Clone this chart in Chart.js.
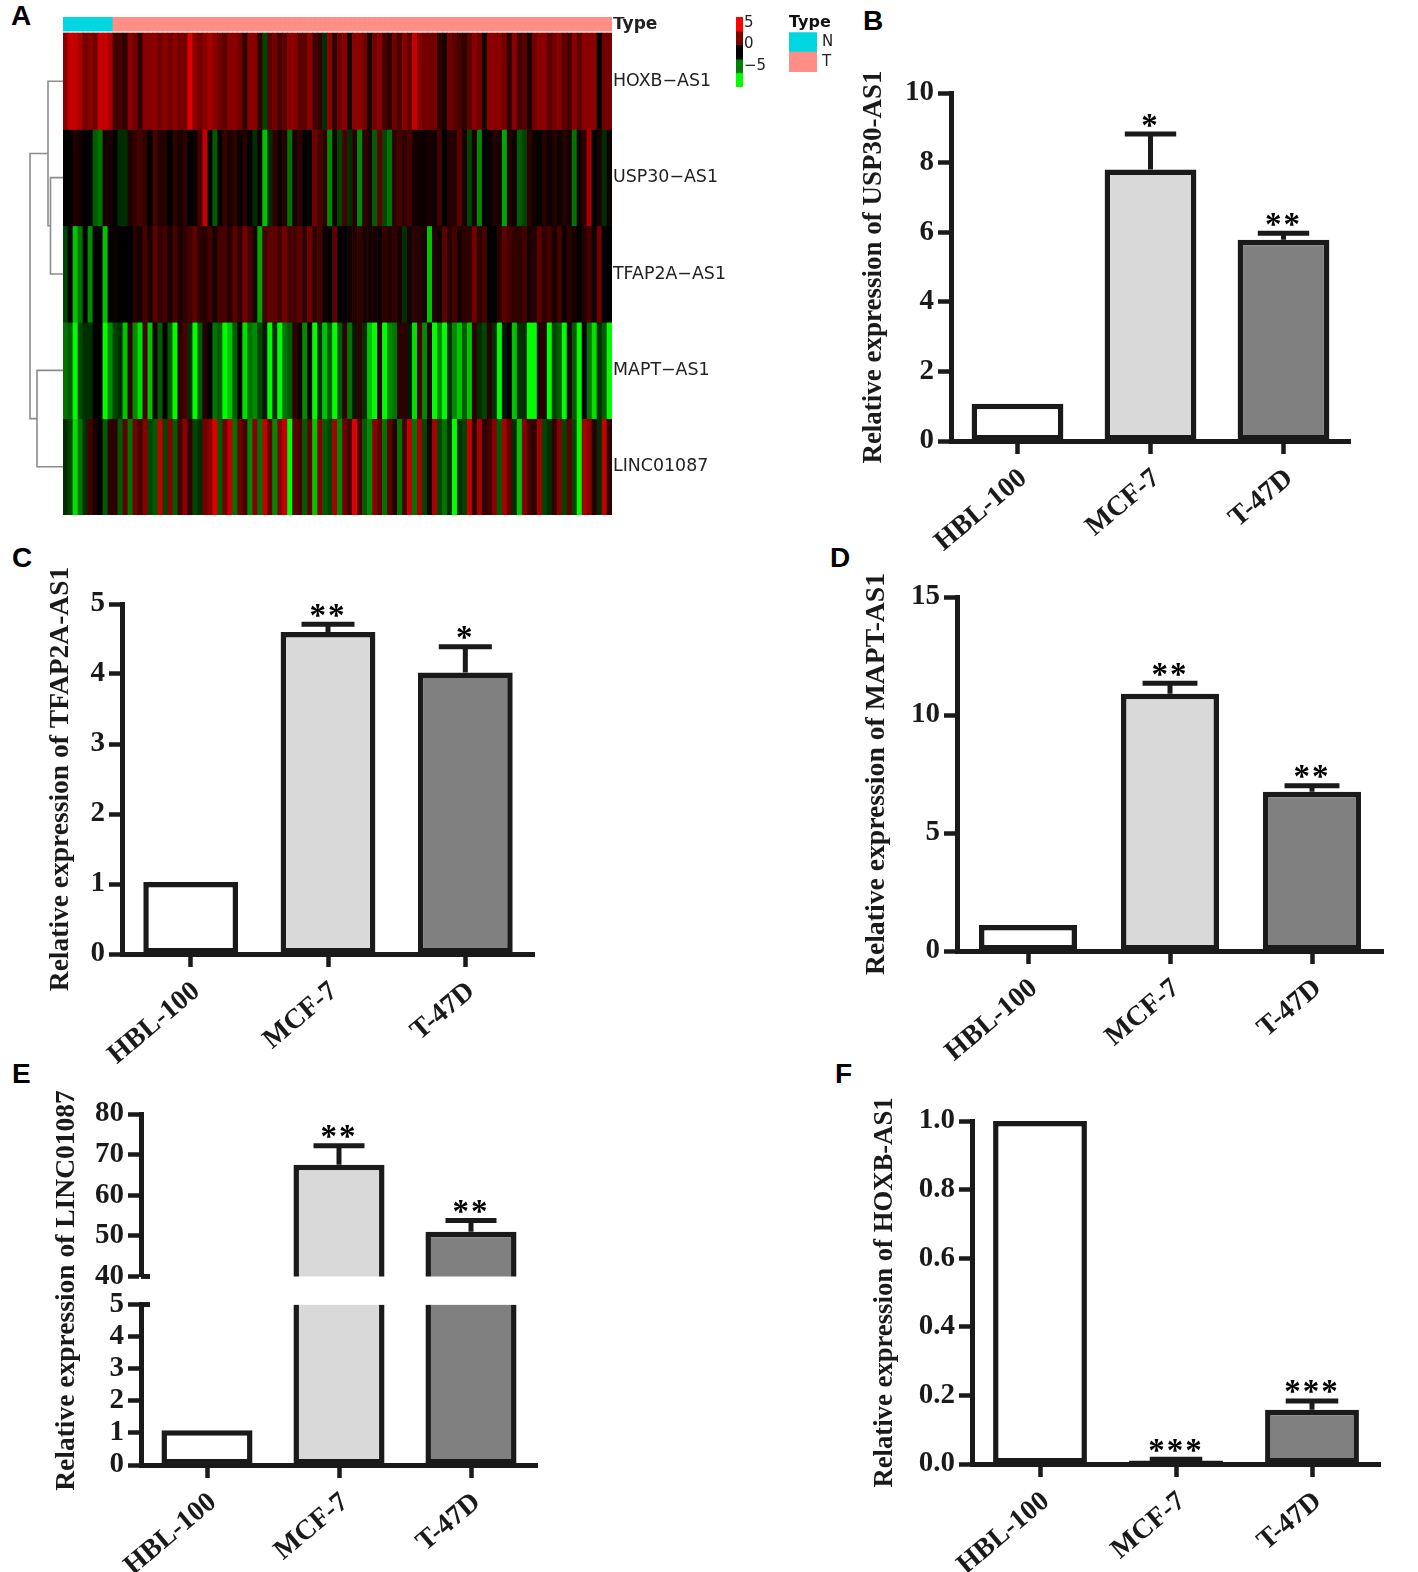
<!DOCTYPE html>
<html>
<head>
<meta charset="utf-8">
<title>lncRNA expression</title>
<script src="https://cdn.jsdelivr.net/npm/chart.js@4"></script>
<style>
  html, body { margin: 0; padding: 0; background: #fff; }
  #page { position: relative; width: 1418px; height: 1572px; overflow: hidden; }
  #page canvas { position: absolute; }
  .tag { position: absolute; font: bold 28px "Liberation Sans", sans-serif; color: #000; line-height: 28px; }
</style>
</head>
<body>
<div id="page">
  <div class="tag" style="left:11px;top:2px">A</div>
  <div class="tag" style="left:863px;top:7px">B</div>
  <div class="tag" style="left:12px;top:544px">C</div>
  <div class="tag" style="left:830px;top:544px">D</div>
  <div class="tag" style="left:12px;top:1060px">E</div>
  <div class="tag" style="left:835px;top:1060px">F</div>
</div>
<script>
// heatmap, one value per column (-5 green .. 5 red)
const genes = ["HOXB\u2212AS1", "USP30\u2212AS1", "TFAP2A\u2212AS1", "MAPT\u2212AS1", "LINC01087"];
const hoxbRow = [3,4,4,3.5,2.5,3,2.5,4,4,3.5,1.5,1.5,1,3,2.5,1,3,3,3,2.5,3,2.5,3,2.5,2.5,4.5,3,2.5,3,3.5,
  3,2.5,2,3,3,2.5,1,3,3,1,-1.5,2,2.5,1.5,2,3,3,2,2,3,1.5,1,-1,3,1,
  2.5,3,0.5,3,3,2.5,0.5,2.5,3,1.5,1,2.5,1.5,3,2,4,3,2.5,2.5,2.5,1,0.5,2.5,2,1.5,1,2,3,2.5,0.5,
  3,3,3,2.5,1,3,1.5,2,0.5,2.5,3,3,2,2.5,3,2,1.5,3,2,3,3,3,0,2.5,2.5];
const uspRow = [0,0,0.7,0.4,0,0,-2,-2.5,0.5,0.5,0,-1,-1,0.7,1.2,1.5,1,0,1.5,0.8,0.8,0,1,0.5,1,0,0.3,1.5,4,0,
  -2,0,1.2,0.5,1,0.2,0.8,0,-1,0.3,-4,-1,1,0.3,0.8,-2.5,0.5,1,0,0,2.5,1.5,1,-3,0.5,
  -1.5,1.5,-1,0.8,-3,1,0.5,-2,2,-1.5,-2.5,1,1.5,1,1.5,0.4,0.4,0.3,0.5,0.3,1.5,0,0.8,0.8,2,0.5,-1.5,0.5,-3,0,
  0,0.8,0.5,-3.5,0.8,0.3,-2,-1.5,1,0.3,0,0.8,0.3,0.8,0.3,0.8,0.5,-2.5,0.3,1,3.5,0,0.5,-1,0.3];
const tfapRow = [-1.5,0,-4,-2.5,0,-3,0,0,-4,0,0.3,0,0,0,0.8,0.5,1.5,0.5,2,1,1.5,0.5,1.5,0.6,1,1.5,2,1,0.8,1.5,
  0.5,1.5,1.5,0.8,2,1,2.5,1.5,0.5,-3.5,1.5,2,2,1.5,2.5,1.5,1.5,2,1,2.5,1,1.5,0.3,0,2,
  0,0,0.4,0.8,1,0.6,0.5,0.5,0.3,1,0.8,1,0.5,-1,0.5,1,0.7,0.5,-4,0.8,0.3,2,0.8,1.5,0.5,1,1,2.5,1,1.5,
  0,0,1,2,1.5,1,1,1.5,0.5,0.8,2,1,1.5,0.5,1.5,0.3,1,0.5,0,0.8,1.5,0.3,2.5,0,0];
const maptRow = [-2.5,-2,-5,-1.5,-1,-1,0,0,-5,-3,-1.5,-1,-4,1,-3,-4.5,1.5,-4,0.5,-2,0,-2,-5,1,1.5,-1,-5,-2,
  0.8,0,-2.5,-2,-5,-4,-2,0,-4.5,-2.5,-3,-1.5,-0.5,-5,-1,-5,-2.5,-2,1,0.3,-3,0,-5,-1,-4,-2,-5,-2,
  1,-2.5,-0.5,1,-1,-4,-5,1,-5,-3,-2.5,1,1,-0.5,-4.5,1.5,-3,0.8,-5,-3,-5,-1,-3,-4,-2,-4,1,
  -1,-1.5,0.8,-1,-5,-0.5,0,-4,-1,-1,-5,-5,0.8,0.8,-5,-1.5,-2,-5,0.5,-2,-5,0,-2.5,-4.5,-1,-2,-5];
const lincRow = [-1,-1.5,-4.5,-2.5,-1,1.5,0.5,0,-2,1,1,-2,2,-2.5,2.5,1.5,3,-1.5,-2,4,-1.5,3,-2,1.5,3,1,-1.5,-1,
  2.5,3,4.5,-2,2.5,4,-2.5,2.5,1.5,-3,3,-2.5,4,2,-3,3,4,-5,2,1.5,-2,2,-4,3,-2,-1.5,3.5,-3,
  2.5,1.5,4.5,1.5,-2,-3,3,2,-2.5,2,0.8,-2.5,1.5,4,-2.5,3.5,-1.5,0.5,3.5,-1.5,-2.5,-1,-5,-1,-1.5,4,1,
  3.5,1,1.5,3,-2,3.5,2,-1,-4,3,1.5,1,3.5,-1.5,-1,1,3,-1.5,2,-1.5,-5,3.5,3,0.7,-1,4,1];
const normalColumns = 10;

// dendrogram: leaves are 0-4, merge i gets id 5+i
const mergeA = [1, 0, 3, 6];
const mergeB = [2, 5, 4, 7];
const mergeHeight = [12.5, 15, 26, 33];

// colour key
const keyEdges = [6.4, 3.1, 0, -3.4, -6.6, -9.9];
const keyColors = ["#ff0000", "#800000", "#000000", "#008000", "#00ff00"];
const keyTicks = [5, 0, -5];

// bar panels
const cellLines = ["HBL-100", "MCF-7", "T-47D"];
const uspValues = [1.07, 7.8, 5.78];
const uspError = [null, 8.82, 5.97];
const uspStars = ["", "*", "**"];
const tfapValues = [1.03, 4.6, 4.02];
const tfapError = [null, 4.71, 4.39];
const tfapStars = ["", "**", "*"];
const maptValues = [1.1, 10.9, 6.75];
const maptError = [null, 11.35, 7];
const maptStars = ["", "**", "**"];
const lincValues = [1.08, 67.5, 51];
const lincError = [null, 72.2, 53.8];
const lincStars = ["", "**", "**"];
const hoxbValues = [1, 0.01, 0.158];
const hoxbError = [null, 0.014, 0.184];
const hoxbStars = ["", "***", "***"];

const ink = "#1a1a1a";
const barFills = ["#ffffff", "#d9d9d9", "#808080"];
const serif = "'Liberation Serif', serif";
const sans = "'DejaVu Sans', sans-serif";

Chart.defaults.animation = false;
Chart.defaults.responsive = false;
Chart.defaults.plugins.legend.display = false;
Chart.defaults.plugins.tooltip.enabled = false;
Chart.defaults.layout.padding = 0;

const addCanvas = (x, y, w, h) => {
  const c = document.createElement("canvas");
  c.width = w;
  c.height = h;
  c.style.left = x + "px";
  c.style.top = y + "px";
  document.getElementById("page").appendChild(c);
  return c;
};

// fixed size for an axis, and no room reserved for half a tick label
const fixWidth = (w) => (s) => { s.width = w; s.paddingTop = 0; s.paddingBottom = 0; };
const fixHeight = (h) => (s) => { s.height = h; s.paddingLeft = 0; s.paddingRight = 0; };

const heatLevel = (a) => Math.round(a <= 3 ? a * 46 : 138 + (a - 3) * 58);
const heatColor = (v) => (v >= 0 ? `rgb(${heatLevel(v)},0,0)` : `rgb(0,${heatLevel(-v)},0)`);

// panel A heatmap
const heatRows = [hoxbRow, uspRow, tfapRow, maptRow, lincRow];
const heatColumns = hoxbRow.map((_, i) => i + 1);
new Chart(addCanvas(63, 17, 679, 498), {
  type: "bar",
  data: {
    labels: heatColumns,
    datasets: [
      ...heatRows.map((row, r) => ({
        data: row.map(() => [4 - r, 5 - r]),
        backgroundColor: row.map(heatColor),
      })),
      {
        data: heatColumns.map(() => [5.02, 5.166]),
        backgroundColor: heatColumns.map((_, i) => (i < normalColumns ? "#00d7e0" : "#ff8f86")),
      },
    ].map((d) => ({ ...d, grouped: false, barPercentage: 1, categoryPercentage: 1 })),
  },
  options: {
    scales: {
      x: { display: false },
      y: {
        position: "right",
        min: 0,
        max: 5.166,
        grid: { display: false, drawTicks: false, tickLength: 0 },
        border: { display: false },
        afterFit: fixWidth(130),
        afterBuildTicks: (s) => {
          s.ticks = [0.5, 1.5, 2.5, 3.5, 4.5, 5.09].map((value) => ({ value }));
        },
        ticks: {
          padding: 1,
          color: "#222",
          autoSkip: false,
          font: (ctx) => (ctx.index === 5
            ? { family: sans, size: 17, weight: "bold" }
            : { family: sans, size: 17.4, weight: "normal" }),
          callback: (_, i) => (i === 5 ? "Type" : genes[4 - i]),
        },
      },
    },
  },
});

// panel A dendrogram
const leafCount = genes.length;
const nodeY = genes.map((_, i) => 4.5 - i);
const nodeH = genes.map(() => 0);
const dendroSets = mergeHeight.map((h, i) => {
  const a = mergeA[i];
  const b = mergeB[i];
  nodeY[leafCount + i] = (nodeY[a] + nodeY[b]) / 2;
  nodeH[leafCount + i] = h;
  return {
    data: [
      { x: nodeH[a], y: nodeY[a] },
      { x: h, y: nodeY[a] },
      { x: h, y: nodeY[b] },
      { x: nodeH[b], y: nodeY[b] },
    ],
  };
});
new Chart(addCanvas(25, 33, 38, 482), {
  type: "scatter",
  data: {
    datasets: dendroSets.map((d) => ({
      ...d,
      showLine: true,
      borderColor: "#8c8c8c",
      borderWidth: 1.6,
      pointRadius: 0,
    })),
  },
  options: {
    scales: {
      x: { display: false, reverse: true, min: 0, max: 38 },
      y: { display: false, min: 0, max: 5 },
    },
  },
});

// panel A colour key
new Chart(addCanvas(736, 12, 45, 80), {
  type: "bar",
  data: {
    labels: ["key"],
    datasets: keyColors.map((color, i) => ({
      data: [[keyEdges[i + 1], keyEdges[i]]],
      backgroundColor: color,
      grouped: false,
      barPercentage: 1,
      categoryPercentage: 1,
    })),
  },
  options: {
    layout: { padding: { top: 5, bottom: 5 } },
    scales: {
      x: { display: false },
      y: {
        position: "right",
        min: keyEdges[5],
        max: keyEdges[0],
        grid: { display: false, drawTicks: false, tickLength: 0 },
        border: { display: false },
        afterFit: fixWidth(38),
        afterBuildTicks: (s) => { s.ticks = keyTicks.map((value) => ({ value })); },
        ticks: {
          padding: 1,
          color: "#222",
          font: { family: sans, size: 15 },
          callback: (v) => String(v).replace("-", "\u2212"),
        },
      },
    },
  },
});

// panel A type key
new Chart(addCanvas(789, 13, 60, 61), {
  type: "bar",
  data: {
    labels: ["Type"],
    datasets: [
      { data: [[0, 1]], backgroundColor: "#ff8f86" },
      { data: [[1, 2]], backgroundColor: "#00d7e0" },
    ].map((d) => ({ ...d, grouped: false, barPercentage: 1, categoryPercentage: 1 })),
  },
  options: {
    layout: { padding: { bottom: 2 } },
    plugins: {
      title: {
        display: true,
        text: "Type",
        align: "start",
        color: "#111",
        padding: 0,
        font: { family: sans, size: 16, weight: "bold" },
      },
    },
    scales: {
      x: { display: false },
      y: {
        position: "right",
        min: 0,
        max: 2,
        grid: { display: false, drawTicks: false, tickLength: 0 },
        border: { display: false },
        afterFit: fixWidth(32),
        afterBuildTicks: (s) => { s.ticks = [0.5, 1.5].map((value) => ({ value })); },
        ticks: {
          padding: 5,
          color: "#222",
          font: { family: sans, size: 15 },
          callback: (_, i) => ["T", "N"][i],
        },
      },
    },
  },
});

// whiskers, stars and the short ticks at an axis break, drawn through the scales
const marks = (valueScale, errors, values, stars, breaks) => ({
  id: "marks",
  afterDatasetsDraw(chart) {
    const { ctx, scales } = chart;
    const y = scales[valueScale];
    const barW = scales.x.width / 3 * 0.69;
    ctx.save();
    ctx.strokeStyle = ink;
    ctx.fillStyle = "#000";
    ctx.lineWidth = 5;
    errors.forEach((e, i) => {
      if (e === null) return;
      const px = scales.x.getPixelForValue(i);
      const top = y.getPixelForValue(e);
      ctx.beginPath();
      ctx.moveTo(px, y.getPixelForValue(values[i]));
      ctx.lineTo(px, top);
      ctx.moveTo(px - barW * 0.28, top);
      ctx.lineTo(px + barW * 0.28, top);
      ctx.stroke();
      ctx.font = "bold 33px " + serif;
      ctx.letterSpacing = "2px";
      ctx.textAlign = "center";
      ctx.textBaseline = "middle";
      ctx.fillText(stars[i], px, top - 7);
    });
    (breaks || []).forEach(([id, v]) => {
      const py = scales[id].getPixelForValue(v);
      ctx.beginPath();
      ctx.moveTo(scales.x.left, py);
      ctx.lineTo(scales.x.left + 9, py);
      ctx.stroke();
    });
    ctx.restore();
  },
});

const axisTicks = {
  color: ink,
  font: { family: serif, size: 29, weight: "bold" },
  padding: 4,
  autoSkip: false,
};
const axisGrid = {
  drawOnChartArea: false,
  tickLength: 13,
  tickWidth: 4.5,
  tickColor: ink,
};
const axisBorder = { color: ink, width: 5 };
const xAxis = (h) => ({
  grid: { ...axisGrid, offset: false },
  border: axisBorder,
  afterFit: fixHeight(h),
  ticks: {
    color: ink,
    font: { family: serif, size: 28, weight: "bold" },
    padding: 8,
    labelOffset: 6,
    autoSkip: false,
    minRotation: 40,
    maxRotation: 40,
  },
});
const titleOf = (gene, size) => ({
  display: true,
  text: "Relative expression of " + gene,
  color: ink,
  padding: { top: 0, bottom: 0 },
  font: { family: serif, size, weight: "bold" },
});

// left/right/top/bottom are where the axes of the panel sit on the page
const barPanel = ({ left, right, top, bottom, values, errors, stars, gene, titleSize, max, step, yWidth, decimals }) => {
  const padTop = 40;
  const xH = 125;
  new Chart(addCanvas(left - yWidth, top - padTop, yWidth + right - left + 6, bottom - top + padTop + xH), {
    type: "bar",
    data: {
      labels: cellLines,
      datasets: [{
        data: values,
        backgroundColor: barFills,
        borderColor: ink,
        borderWidth: 5.5,
        borderSkipped: false,
        barPercentage: 0.69,
        categoryPercentage: 1,
      }],
    },
    options: {
      layout: { padding: { top: padTop, right: 6 } },
      scales: {
        x: xAxis(xH),
        y: {
          min: 0,
          max,
          grid: axisGrid,
          border: axisBorder,
          title: titleOf(gene, titleSize),
          afterFit: fixWidth(yWidth),
          ticks: {
            ...axisTicks,
            stepSize: step,
            callback: (v) => v.toFixed(decimals),
          },
        },
      },
    },
    plugins: [marks("y", errors, values, stars)],
  });
};

barPanel({ left: 951, right: 1350, top: 93, bottom: 441, values: uspValues, errors: uspError, stars: uspStars,
  gene: "USP30-AS1", titleSize: 27, max: 10, step: 2, yWidth: 93, decimals: 0 });
barPanel({ left: 122, right: 534, top: 604, bottom: 954, values: tfapValues, errors: tfapError, stars: tfapStars,
  gene: "TFAP2A-AS1", titleSize: 27.5, max: 5, step: 1, yWidth: 78, decimals: 0 });
barPanel({ left: 957, right: 1383, top: 597, bottom: 951, values: maptValues, errors: maptError, stars: maptStars,
  gene: "MAPT-AS1", titleSize: 27.7, max: 15, step: 5, yWidth: 97, decimals: 0 });
barPanel({ left: 972, right: 1380, top: 1121, bottom: 1464, values: hoxbValues, errors: hoxbError, stars: hoxbStars,
  gene: "HOXB-AS1", titleSize: 26.7, max: 1, step: 0.2, yWidth: 103, decimals: 1 });

// panel E has a broken axis: three stacked value scales, the middle one only carries the title
const lowCut = 5;
const highCut = 40;
const lincLow = lincValues.map((v) => Math.min(v, lowCut));
const lincHigh = lincValues.map((v) => (v > highCut ? v : null));
const eYWidth = 91;
new Chart(addCanvas(141 - eYWidth, 1085, eYWidth + 396 + 6, 1465 - 1085 + 125), {
  type: "bar",
  data: {
    labels: cellLines,
    datasets: [
      {
        yAxisID: "yLow",
        data: lincLow,
        backgroundColor: barFills,
        borderColor: ink,
        borderWidth: 5.5,
        borderSkipped: (ctx) => (lincValues[ctx.dataIndex] > lowCut ? "top" : false),
      },
      {
        yAxisID: "yHigh",
        data: lincHigh,
        backgroundColor: barFills,
        borderColor: ink,
        borderWidth: 5.5,
        borderSkipped: "bottom",
      },
    ].map((d) => ({ ...d, grouped: false, barPercentage: 0.69, categoryPercentage: 1 })),
  },
  options: {
    layout: { padding: { top: 29, right: 6 } },
    scales: {
      x: xAxis(125),
      yLow: {
        position: "left",
        stack: "broken",
        stackWeight: 160,
        min: 0,
        max: lowCut,
        grid: axisGrid,
        border: axisBorder,
        afterFit: fixWidth(eYWidth),
        ticks: { ...axisTicks, stepSize: 1 },
      },
      yGap: {
        position: "left",
        stack: "broken",
        stackWeight: 28,
        min: 0,
        max: 1,
        grid: { display: false },
        border: { display: false },
        title: titleOf("LINC01087", 27.5),
        afterFit: fixWidth(eYWidth),
        ticks: { display: false },
      },
      yHigh: {
        position: "left",
        stack: "broken",
        stackWeight: 162,
        min: highCut,
        max: 80,
        grid: axisGrid,
        border: axisBorder,
        afterFit: fixWidth(eYWidth),
        ticks: { ...axisTicks, stepSize: 10 },
      },
    },
  },
  plugins: [marks("yHigh", lincError, lincValues, lincStars, [["yHigh", highCut], ["yLow", lowCut]])],
});
</script>
</body>
</html>
